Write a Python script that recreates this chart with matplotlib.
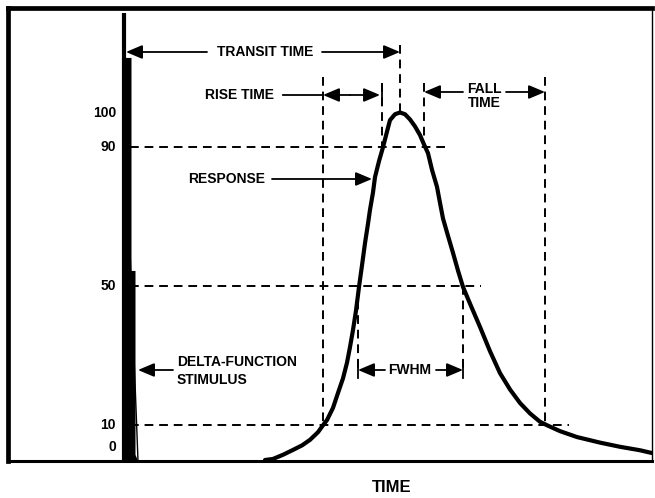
import matplotlib
matplotlib.use("Agg")
import matplotlib.pyplot as plt

# ---- data (time in arbitrary units, response in %) ----
resp_t = [265, 273, 283, 293, 302, 310, 318, 323, 327, 333, 338, 343, 347, 350, 353,
          356, 359, 362, 365, 368, 370, 373, 375, 379, 383, 387, 390, 395, 400,
          405, 410, 415, 420, 424, 428, 432, 437, 440, 443, 448, 453, 458, 463,
          470, 480, 490, 500, 510, 520, 530, 540, 547, 560, 577, 600, 620, 640, 652]
resp_v = [0, 0.3, 1.5, 2.9, 4.2, 5.8, 8, 10, 11.5, 15, 19.3, 23.5, 28, 32.5, 37.4,
          43, 49.8, 56, 62.4, 68, 72, 77, 81.4, 86, 90, 94.5, 97.8, 99.5, 100,
          99.5, 98, 96, 93.5, 90.8, 88.3, 83.5, 78.6, 74, 69.5, 64.5, 59.6, 54.5, 49.8,
          45, 38.3, 31.3, 25, 20.3, 16.4, 13.4, 11, 10, 8.3, 6.6, 5, 3.8, 2.8, 2]
stim_t = [125, 125, 131.5, 131.5, 135.5, 135.5, 138]
stim_v = [-0.3, 115.7, 115.7, 54.4, 54.4, 1.5, -0.3]

tick_vals = [100, 90, 50, 10, 0]
tick_labels = ["100", "90", "50", "10", "0"]

t10r, t50r, t90r, tpk, t90f, t50f, t10f = 323, 358, 382, 400, 424, 463, 545

FONT = "Liberation Sans"
FS = 10
FW = "bold"

fig = plt.figure(figsize=(6.55, 4.98), dpi=100)
W, H = 655, 498
ax = fig.add_axes([8 / W, (H - 461) / H, (652 - 8) / W, (461 - 8) / H])
ax.set_xlim(8, 652)
ax.set_ylim(-0.29, 130.07)
ax.set_xticks([])
ax.set_yticks([])
for s, lw in [("left", 3.4), ("top", 3.4), ("bottom", 2.2), ("right", 1.0)]:
    ax.spines[s].set_linewidth(lw)
    ax.spines[s].set_color("black")

def pv(py):
    return (460 - py) / 3.475

# vertical axis line
ax.plot([124.5, 124.5], [-0.3, pv(13)], color="black", lw=3.0, solid_capstyle="butt")
# stimulus spike
ax.fill(stim_t, stim_v, color="black", lw=0)
ax.plot([130, 138], [pv(250), -0.3], color="black", lw=1.0)

# response curve
ax.plot(resp_t, resp_v, color="black", lw=3.0, solid_capstyle="round", solid_joinstyle="round")

dash = dict(color="black", lw=1.4, dashes=(4.5, 3))
# horizontal dashed lines
ax.plot([130, 446], [90, 90], **dash)
ax.plot([130, 481], [50, 50], **dash)
ax.plot([130, 569], [10, 10], **dash)
# vertical dashed lines
ax.plot([t10r, t10r], [pv(77), 10], **dash)
ax.plot([t90r, t90r], [pv(83), 90], **dash)
ax.plot([tpk, tpk], [pv(45), 100], **dash)
ax.plot([t90f, t90f], [pv(83), 90], **dash)
ax.plot([t10f, t10f], [pv(77), 10], **dash)
ax.plot([t50r, t50r], [50, pv(372)], **dash)
ax.plot([t50f, t50f], [50, pv(372)], **dash)

def arrow(x0, y0, x1, y1):
    ax.annotate("", xy=(x1, y1), xytext=(x0, y0),
                arrowprops=dict(arrowstyle="-|>,head_length=0.9,head_width=0.38",
                                lw=1.3, color="black", shrinkA=0, shrinkB=0,
                                mutation_scale=11))

def txt(x, y, s, ha="center", **kw):
    kw.setdefault("fontweight", FW)
    kw.setdefault("fontsize", FS)
    ax.text(x, y, s, ha=ha, va="center", family=FONT,
            color="black", clip_on=False, **kw)

# y tick labels
label_py = [113, 147, 286, 425, 447]
for v, lab, py in zip(tick_vals, tick_labels, label_py):
    txt(116, pv(py), lab, ha="right")

# transit time
yT = pv(52)
txt(265, yT, "TRANSIT TIME")
arrow(207, yT, 126, yT)
arrow(322, yT, tpk, yT)

# rise time
yR = pv(95)
txt(240, yR, "RISE TIME")
ax.plot([283, t10r], [yR, yR], color="black", lw=1.3)
arrow(350, yR, t10r, yR)
arrow(350, yR, t90r - 2, yR)
ax.plot([t90r, t90r], [yR - 2.5, yR + 2.5], color="black", lw=1.3)

# fall time
yF = pv(92)
txt(484, pv(96), "FALL\nTIME", linespacing=0.95)
arrow(463, yF, t90f, yF)
arrow(506, yF, t10f, yF)

# response
yP = pv(179)
txt(227, yP, "RESPONSE")
arrow(272, yP, 372, yP)

# delta function stimulus
yD = pv(370)
txt(177, pv(362), "DELTA-FUNCTION", ha="left")
txt(177, pv(380), "STIMULUS", ha="left")
arrow(173, yD, 138, yD)

# FWHM
yW = pv(370)
txt(410, yW, "FWHM")
arrow(385, yW, t50r, yW)
arrow(436, yW, t50f, yW)
for xx in (t50r, t50f):
    ax.plot([xx, xx], [yW - 2.3, yW + 2.3], color="black", lw=1.3)

# x label
txt(392, pv(488), "TIME", fontsize=12)

fig.savefig("out.png", dpi=100)
